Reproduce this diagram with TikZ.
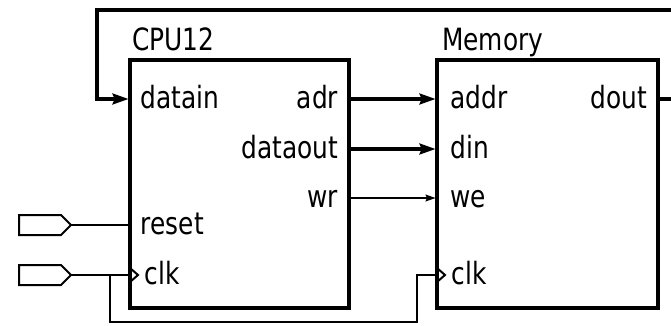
\documentclass[tikz,border=0pt]{standalone}
\usepackage{fontspec}
\setmainfont{DejaVu Sans}[FakeStretch=0.81]
\usetikzlibrary{arrows.meta,shapes.symbols}
\begin{document}
\begin{tikzpicture}[x=0.75pt,y=-0.75pt,
  lbl/.style={font=\fontsize{23}{27}\selectfont, inner sep=0pt},
  blockbox/.style={draw, line width=2.3pt, anchor=north west, inner sep=0pt, outer sep=0pt},
  bus/.style={line width=3pt, shorten >=1pt, -{Stealth[length=12pt,width=8pt,inset=1.5pt]}},
  sig/.style={line width=1.5pt, shorten >=1pt, -{Stealth[length=7.5pt,width=5pt,inset=1pt]}},
  wire/.style={line width=1.5pt},
  port/.style={signal, signal to=east, draw, line width=1.5pt, minimum width=39pt, minimum height=15pt, inner sep=0pt, outer sep=0pt},
  clkmark/.style={line width=1.5pt}
]
\path[use as bounding box] (0,0) rectangle (671,325);
\clip (0,0) rectangle (671,325);

% blocks
\node[blockbox, minimum width=164.25pt, minimum height=186pt] (cpu) at (130,60) {};
\node[blockbox, minimum width=165.75pt, minimum height=186pt] (mem) at (437,60) {};
\node[lbl, anchor=base west] (cputitle) at (132,50) {CPU12};
\node[lbl, anchor=base west] (memtitle) at (442,50) {Memory};

% pins
\coordinate (cpu-datain) at (130,99);
\coordinate (cpu-reset) at (130,225);
\coordinate (cpu-clk) at (130,275);
\coordinate (cpu-adr) at (349,99);
\coordinate (cpu-dataout) at (349,149);
\coordinate (cpu-wr) at (349,198);
\coordinate (mem-addr) at (437,99);
\coordinate (mem-din) at (437,149);
\coordinate (mem-we) at (437,198);
\coordinate (mem-clk) at (437,275);
\coordinate (mem-dout) at (658,99);

% pin labels
\node[lbl, anchor=base west, xshift=8pt, yshift=-7pt] (l-datain) at (cpu-datain) {datain};
\node[lbl, anchor=base west, xshift=8pt, yshift=-7pt] (l-reset) at (cpu-reset) {reset};
\node[lbl, anchor=base west, xshift=11pt, yshift=-7pt] (l-cclk) at (cpu-clk) {clk};
\node[lbl, anchor=base east, xshift=-8pt, yshift=-7pt] (l-adr) at (cpu-adr) {adr};
\node[lbl, anchor=base east, xshift=-8pt, yshift=-7pt] (l-dataout) at (cpu-dataout) {dataout};
\node[lbl, anchor=base east, xshift=-8pt, yshift=-7pt] (l-wr) at (cpu-wr) {wr};
\node[lbl, anchor=base west, xshift=10pt, yshift=-7pt] (l-addr) at (mem-addr) {addr};
\node[lbl, anchor=base west, xshift=10pt, yshift=-7pt] (l-din) at (mem-din) {din};
\node[lbl, anchor=base west, xshift=10pt, yshift=-7pt] (l-we) at (mem-we) {we};
\node[lbl, anchor=base west, xshift=11pt, yshift=-7pt] (l-mclk) at (mem-clk) {clk};
\node[lbl, anchor=base east, xshift=-8pt, yshift=-7pt] (l-dout) at (mem-dout) {dout};

% clock marks
\draw[clkmark] (130,268) -- (138,275) -- (130,282);
\draw[clkmark] (437,268) -- (445,275) -- (437,282);

% input ports
\node[port] (resetport) at (40,225) {};
\node[port] (clkport) at (40,275) {};

% connections
\draw[bus] (cpu-adr) -- (mem-addr);
\draw[bus] (cpu-dataout) -- (mem-din);
\draw[sig] (cpu-wr) -- (mem-we);
\draw[wire] (resetport.east) -- (cpu-reset);
\draw[wire] (clkport.east) -- (cpu-clk);

\coordinate (clkj) at (110,275);
\coordinate (clkb) at (417,322);
\draw[wire] (clkj) |- (clkb) |- (mem-clk);

\coordinate (loopR) at (690,10);
\coordinate (loopL) at (97,10);
\draw[bus] (mem-dout) -| (loopR) -- (loopL) |- (cpu-datain);
\end{tikzpicture}
\end{document}
